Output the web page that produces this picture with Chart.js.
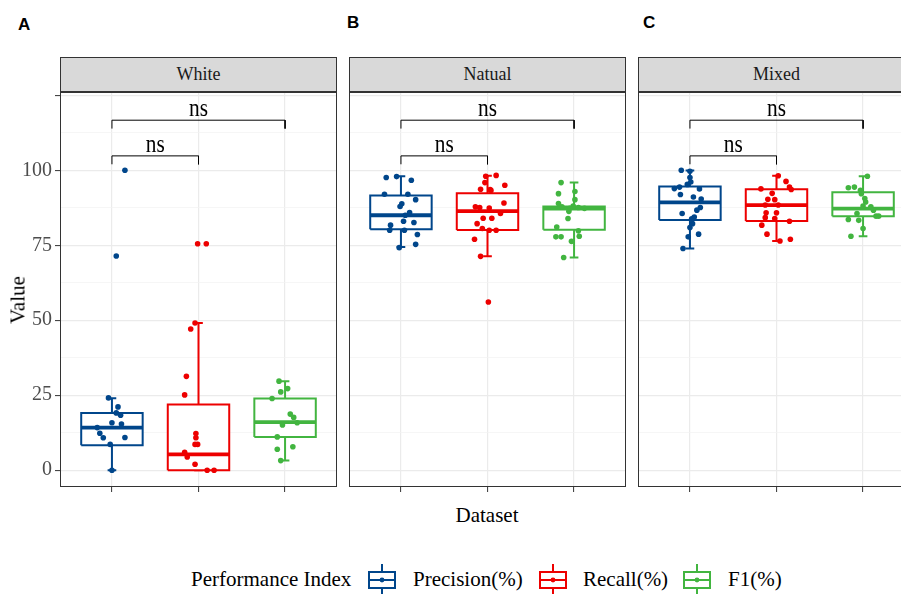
<!DOCTYPE html>
<html>
<head>
<meta charset="utf-8">
<script src="https://cdn.jsdelivr.net/npm/chart.js@4.4.0/dist/chart.umd.min.js"></script>
<style>
  html, body { margin: 0; padding: 0; background: #fff; overflow: hidden; }
  #wrap { position: relative; width: 901px; height: 594px; overflow: hidden; font-family: "Liberation Serif", "Times New Roman", serif; color: #000; }
  canvas.panel { position: absolute; top: 91px; }
  .strip { position: absolute; top: 57px; height: 35px; width: 277px; box-sizing: border-box; border: 1px solid #333; background: #D9D9D9; color: #1A1A1A; font-size: 18px; line-height: 33px; text-align: center; }
  .tag { position: absolute; font-family: "Liberation Sans", Arial, sans-serif; font-weight: bold; font-size: 17px; line-height: 20px; }
  .title { position: absolute; font-size: 21px; white-space: nowrap; }
  .legtxt { position: absolute; font-size: 21px; white-space: nowrap; top: 567px; }
  canvas.key { position: absolute; top: 564px; }
</style>
</head>
<body>
<div id="wrap">
  <div class="tag" style="left:18px; top:15px;">A</div>
  <div class="tag" style="left:347px; top:13px;">B</div>
  <div class="tag" style="left:643px; top:13px;">C</div>

  <div class="strip" id="stripA" style="left:60px;"></div>
  <div class="strip" id="stripB" style="left:349px;"></div>
  <div class="strip" id="stripC" style="left:638px;"></div>

  <canvas class="panel" id="panelA" width="338" height="402" style="left:0px;"></canvas>
  <canvas class="panel" id="panelB" width="279" height="402" style="left:348px;"></canvas>
  <canvas class="panel" id="panelC" width="279" height="402" style="left:637px;"></canvas>

  <div class="title" id="yTitle" style="left:18px; top:300px; transform: translate(-50%,-50%) rotate(-90deg);">Value</div>
  <div class="title" id="xTitle" style="left:487px; top:515px; transform: translate(-50%,-50%);">Dataset</div>

  <div class="legtxt" id="legTitle" style="left:191px;"></div>
  <canvas class="key" id="key0" width="30" height="30" style="left:367px;"></canvas>
  <div class="legtxt" id="leg0" style="left:413px;"></div>
  <canvas class="key" id="key1" width="30" height="30" style="left:538px;"></canvas>
  <div class="legtxt" id="leg1" style="left:583px;"></div>
  <canvas class="key" id="key2" width="30" height="30" style="left:682px;"></canvas>
  <div class="legtxt" id="leg2" style="left:728px;"></div>
</div>

<script>
// ---- data ----
const facetNames = ['White', 'Natual', 'Mixed'];
const seriesNames = ['Precision(%)', 'Recall(%)', 'F1(%)'];
const seriesColors = ['#00468B', '#ED0000', '#42B540'];
const legendTitle = 'Performance Index';
const yTickValues = [0, 25, 50, 75, 100, 125];
const yTickLabels = ['0', '25', '50', '75', '100', ''];

// box summaries per series: [lower whisker, Q1, median, Q3, upper whisker]
const whiteBoxes  = [[0, 8.3, 14.2, 19.1, 24.0], [0, 0, 5.3, 21.9, 49.1], [3.2, 11.1, 16.0, 23.9, 29.7]];
const natualBoxes = [[74.4, 80.3, 85.0, 91.6, 98.0], [71.3, 80.1, 86.4, 92.3, 98.2], [70.9, 80.2, 87.2, 87.9, 95.9]];
const mixedBoxes  = [[73.9, 83.4, 89.3, 94.6, 99.9], [76.4, 83.1, 88.4, 93.7, 98.2], [78.0, 84.7, 87.2, 92.7, 98.0]];

// individual observations and their horizontal jitter (in category units)
const whitePrecision = [24.1, 21.1, 19.1, 18.3, 15.8, 15.4, 14.2, 12.3, 10.8, 10.9, 8.6, 0, 71.4, 100];
const whitePrecisionJitter = [-0.04, 0.07, 0.05, 0.10, 0.00, 0.11, -0.17, -0.14, -0.10, 0.15, -0.02, 0.00, 0.05, 0.15];
const whiteRecall = [49.1, 47.1, 31.3, 25.1, 12.2, 10.8, 8.6, 8.6, 6.0, 4.4, 2.0, 0, 0, 75.5, 75.5];
const whiteRecallJitter = [-0.04, -0.09, -0.14, -0.16, -0.03, -0.03, -0.04, -0.01, -0.16, -0.13, -0.04, 0.10, 0.18, -0.01, 0.09];
const whiteF1 = [29.7, 27.2, 26.1, 23.9, 18.7, 17.6, 15.8, 15.1, 11.1, 7.8, 7.0, 3.2];
const whiteF1Jitter = [-0.07, 0.03, -0.05, -0.15, 0.06, 0.10, 0.14, -0.03, -0.09, 0.09, -0.09, -0.05];

const natualPrecision = [97.6, 97.9, 96.7, 92.0, 92.0, 90.2, 88.8, 87.9, 85.9, 85.0, 83.0, 82.6, 81.7, 80.0, 80.0, 78.6, 75.3, 74.2];
const natualPrecisionJitter = [-0.17, -0.05, 0.12, -0.19, 0.08, 0.17, 0.01, -0.01, 0.10, 0.05, 0.03, 0.15, -0.12, -0.13, 0.04, 0.19, 0.17, -0.02];
const natualRecall = [98.0, 98.3, 95.9, 95.0, 93.7, 93.6, 93.3, 89.1, 87.8, 87.4, 87.6, 85.6, 84.0, 84.0, 82.2, 80.6, 80.0, 80.0, 77.0, 71.3, 56.1];
const natualRecallJitter = [-0.02, 0.10, -0.03, 0.20, -0.08, 0.03, 0.04, 0.19, -0.14, 0.02, -0.09, 0.15, -0.05, 0.05, -0.12, -0.06, 0.02, 0.10, -0.15, -0.08, 0.01];
const natualF1 = [95.9, 92.9, 92.2, 90.2, 88.9, 88.1, 87.8, 87.3, 87.6, 87.3, 86.3, 83.9, 81.1, 79.8, 77.8, 77.8, 78.0, 76.3, 70.9];
const natualF1Jitter = [-0.15, 0.01, -0.18, 0.01, -0.18, -0.01, -0.14, -0.05, 0.05, 0.12, -0.06, -0.07, -0.20, 0.05, -0.21, -0.15, 0.06, -0.03, -0.12];

const mixedPrecision = [100, 99.7, 97.6, 96.1, 95.3, 93.9, 94.4, 93.8, 91.9, 91.1, 90.4, 87.6, 86.7, 85.6, 84.4, 83.8, 82.2, 80.9, 78.7, 77.8, 73.9];
const mixedPrecisionJitter = [-0.10, 0.00, 0.00, 0.01, -0.03, -0.18, -0.12, 0.11, -0.11, 0.04, 0.13, 0.12, 0.08, -0.09, 0.05, 0.02, 0.03, 0.00, 0.10, -0.02, -0.08];
const mixedRecall = [98.2, 96.3, 94.4, 93.6, 93.8, 92.3, 90.3, 90.2, 88.4, 88.4, 85.8, 85.8, 84.2, 83.9, 83.0, 81.7, 78.7, 76.4, 77.0];
const mixedRecallJitter = [0.02, 0.11, 0.15, 0.17, -0.18, -0.05, -0.10, -0.02, -0.13, 0.02, -0.12, 0.00, -0.13, -0.02, 0.15, -0.17, -0.11, 0.04, 0.16];
const mixedF1 = [98.0, 94.2, 94.4, 93.3, 92.2, 90.6, 89.4, 88.1, 87.8, 86.7, 84.7, 84.7, 85.6, 83.6, 83.3, 80.6, 78.0];
const mixedF1Jitter = [0.05, -0.17, -0.10, -0.03, -0.02, 0.02, 0.03, 0.00, 0.09, 0.12, 0.15, 0.18, -0.07, -0.17, -0.05, 0.00, -0.14];

// significance brackets: [tick end, bar level, label baseline]
const outerBracket = [113.9, 116.7, 118.1];
const innerBracket = [102.0, 104.8, 106.2];
const bracketLabel = 'ns';

// ---- drawing ----
const SERIF = '"Liberation Serif", "Times New Roman", serif';
const BOX_HALF = 0.355;
const CAP_HALF = 0.05;

function whiskerDataset(stats, c, color) {
  const [lo, q1, , q3, hi] = stats;
  return {
    type: 'line', order: 4, borderColor: color, borderWidth: 2, pointRadius: 0, spanGaps: false,
    data: [
      { x: c, y: q3 }, { x: c, y: hi }, { x: c - CAP_HALF, y: hi }, { x: c + CAP_HALF, y: hi },
      { x: c, y: null },
      { x: c, y: q1 }, { x: c, y: lo }, { x: c - CAP_HALF, y: lo }, { x: c + CAP_HALF, y: lo }
    ]
  };
}
function boxDataset(stats, c, color) {
  const q1 = stats[1], q3 = stats[3];
  return {
    type: 'line', order: 3, borderColor: color, borderWidth: 2, pointRadius: 0,
    borderJoinStyle: 'miter', fill: 'shape', backgroundColor: '#FFFFFF',
    data: [
      { x: c - BOX_HALF, y: q1 }, { x: c + BOX_HALF, y: q1 }, { x: c + BOX_HALF, y: q3 },
      { x: c - BOX_HALF, y: q3 }, { x: c - BOX_HALF, y: q1 }
    ]
  };
}
function medianDataset(stats, c, color) {
  return {
    type: 'line', order: 2, borderColor: color, borderWidth: 3.8, pointRadius: 0,
    data: [{ x: c - BOX_HALF, y: stats[2] }, { x: c + BOX_HALF, y: stats[2] }]
  };
}
function pointDataset(values, jitter, c, color) {
  return {
    type: 'scatter', order: 1, backgroundColor: color, borderWidth: 0,
    pointRadius: 2.8, pointHoverRadius: 2.8,
    data: values.map((v, i) => ({ x: c + jitter[i], y: v }))
  };
}
function bracketDataset(b, from, to) {
  return {
    type: 'line', order: 0, borderColor: '#000', borderWidth: 1, pointRadius: 0,
    data: [{ x: from, y: b[0] }, { x: from, y: b[1] }, { x: to, y: b[1] }, { x: to, y: b[0] }]
  };
}

function drawLabel(ctx, text, px, py) {
  ctx.save();
  ctx.translate(px, py);
  ctx.scale(0.82, 1);
  ctx.fillText(text, 0, 0);
  ctx.restore();
}

const panelFrame = {
  id: 'panelFrame',
  afterDraw(chart) {
    const { ctx, chartArea: a, scales: { x, y } } = chart;
    ctx.save();
    ctx.fillStyle = '#000';
    ctx.font = '26px ' + SERIF;
    ctx.textAlign = 'center';
    ctx.textBaseline = 'alphabetic';
    drawLabel(ctx, bracketLabel, x.getPixelForValue(2), y.getPixelForValue(outerBracket[2]));
    drawLabel(ctx, bracketLabel, x.getPixelForValue(1.5), y.getPixelForValue(innerBracket[2]));
    ctx.strokeStyle = '#333333';
    ctx.lineWidth = 1;
    ctx.strokeRect(a.left + 0.5, a.top + 0.5, a.right - a.left - 1, a.bottom - a.top - 1);
    ctx.restore();
  }
};

const yGridValues = [0, 12.5, 25, 37.5, 50, 62.5, 75, 87.5, 100, 112.5, 125];
const isMajor = v => yTickValues.indexOf(v) >= 0;

function makePanel(id, boxes, valueSets, jitterSets, showY) {
  const datasets = [];
  boxes.forEach((stats, i) => {
    const c = i + 1, col = seriesColors[i];
    datasets.push(whiskerDataset(stats, c, col));
    datasets.push(boxDataset(stats, c, col));
    datasets.push(medianDataset(stats, c, col));
    datasets.push(pointDataset(valueSets[i], jitterSets[i], c, col));
  });
  datasets.push(bracketDataset(outerBracket, 1, 3));
  datasets.push(bracketDataset(innerBracket, 1, 2));

  return new Chart(document.getElementById(id), {
    type: 'scatter',
    data: { datasets },
    plugins: [panelFrame],
    options: {
      responsive: false, animation: false, devicePixelRatio: 1,
      layout: { autoPadding: false, padding: { top: 1, right: 1, left: showY ? 0 : 1, bottom: 0 } },
      plugins: { legend: { display: false }, tooltip: { enabled: false } },
      events: [],
      scales: {
        x: {
          type: 'linear', min: 0.4, max: 3.6,
          afterBuildTicks: s => { s.ticks = [1, 2, 3].map(v => ({ value: v })); },
          afterFit: s => { s.height = 6; s.paddingLeft = 0; s.paddingRight = 0; s.paddingTop = 0; s.paddingBottom = 0; },
          border: { display: false },
          grid: { color: '#EBEBEB', lineWidth: 1.2, drawTicks: true, tickLength: 5, tickColor: '#333333', tickWidth: 1 },
          ticks: { autoSkip: false, callback: () => '', font: { size: 1 } }
        },
        y: {
          type: 'linear', min: -5.6, max: 126.1,
          afterBuildTicks: s => { s.ticks = yGridValues.map(v => ({ value: v })); },
          afterFit: s => { s.width = showY ? 60 : 0; s.paddingTop = 0; s.paddingBottom = 0; s.paddingLeft = 0; s.paddingRight = 0; },
          border: { display: false },
          grid: {
            color: c => isMajor(c.tick.value) ? '#EBEBEB' : '#F2F2F2',
            lineWidth: c => isMajor(c.tick.value) ? 1.2 : 0.7,
            drawTicks: showY, tickLength: 5, tickWidth: 1,
            tickColor: c => isMajor(c.tick.value) ? '#333333' : 'rgba(0,0,0,0)'
          },
          ticks: {
            display: showY, padding: 3, autoSkip: false, color: '#4D4D4D',
            font: { family: SERIF, size: 20 },
            callback: v => { const k = yTickValues.indexOf(v); return k >= 0 ? yTickLabels[k] : ''; }
          }
        }
      }
    }
  });
}

makePanel('panelA', whiteBoxes, [whitePrecision, whiteRecall, whiteF1], [whitePrecisionJitter, whiteRecallJitter, whiteF1Jitter], true);
makePanel('panelB', natualBoxes, [natualPrecision, natualRecall, natualF1], [natualPrecisionJitter, natualRecallJitter, natualF1Jitter], false);
makePanel('panelC', mixedBoxes, [mixedPrecision, mixedRecall, mixedF1], [mixedPrecisionJitter, mixedRecallJitter, mixedF1Jitter], false);

// facet strips
['stripA', 'stripB', 'stripC'].forEach((id, i) => { document.getElementById(id).textContent = facetNames[i]; });

// legend
document.getElementById('legTitle').textContent = legendTitle;
seriesNames.forEach((name, i) => {
  document.getElementById('leg' + i).textContent = name;
  const k = document.getElementById('key' + i).getContext('2d');
  const col = seriesColors[i];
  k.strokeStyle = col; k.fillStyle = col; k.lineWidth = 2;
  k.beginPath(); k.moveTo(15, 0); k.lineTo(15, 8); k.moveTo(15, 24); k.lineTo(15, 30); k.stroke();
  k.strokeRect(2, 8, 26, 16);
  k.beginPath(); k.moveTo(2, 16); k.lineTo(28, 16); k.stroke();
  k.beginPath(); k.arc(15, 16, 2.4, 0, Math.PI * 2); k.fill();
});
</script>
</body>
</html>
